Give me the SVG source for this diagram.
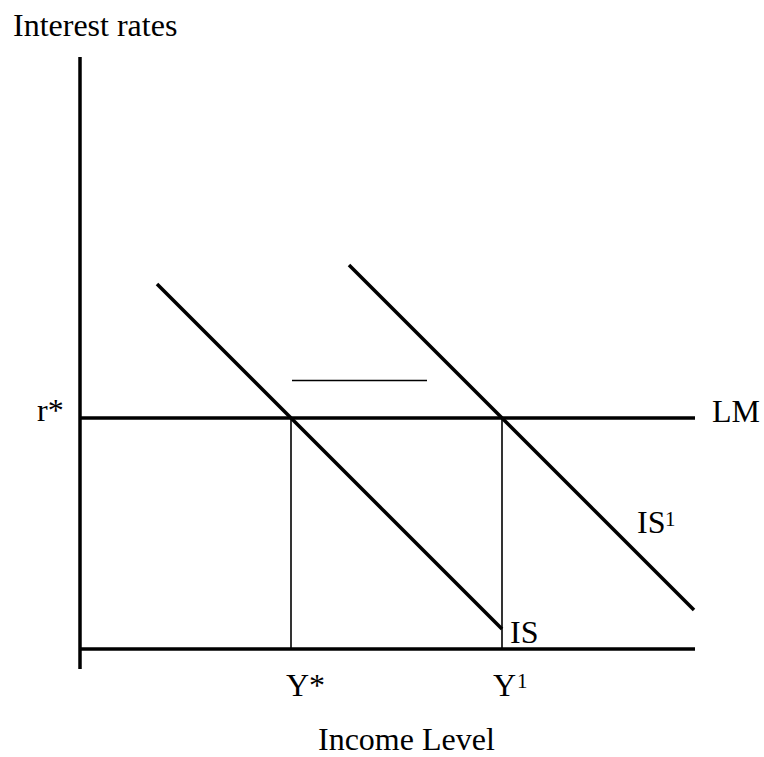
<svg xmlns="http://www.w3.org/2000/svg" width="764" height="757" viewBox="0 0 764 757">
<style>
text{font-family:"Liberation Serif","Times New Roman",serif;font-size:32px;fill:#000}
.sup{font-size:21px}
.thick{stroke:#000;stroke-width:3.5;fill:none}
.thin{stroke:#000;stroke-width:1.6;fill:none}
</style>
<rect width="764" height="757" fill="#fff"/>
<g id="axes">
<line class="thick" x1="80" y1="57" x2="80" y2="669"/>
<line class="thick" x1="80" y1="649" x2="695" y2="649"/>
<text x="13" y="36">Interest rates</text>
<text x="318" y="750">Income Level</text>
</g>
<g id="connectors">
<line class="thin" x1="291" y1="418" x2="291" y2="649"/>
<line class="thin" x1="502" y1="418" x2="502" y2="649"/>
<line class="thin" x1="292" y1="380.5" x2="427" y2="380.5"/>
</g>
<g id="LM">
<line class="thick" x1="80" y1="418" x2="695" y2="418"/>
<text x="712" y="422">LM</text>
</g>
<g id="IS">
<line class="thick" x1="157" y1="284" x2="502" y2="629"/>
<text x="510" y="643">IS</text>
</g>
<g id="IS1">
<line class="thick" x1="349" y1="265" x2="694" y2="610"/>
<text x="637" y="533">IS</text>
<text class="sup" x="665" y="526">1</text>
</g>
<g id="r-star">
<text x="37" y="421">r*</text>
</g>
<g id="Y-star">
<text x="286" y="696">Y*</text>
</g>
<g id="Y1">
<text x="493" y="696">Y</text>
<text class="sup" x="517" y="688">1</text>
</g>
</svg>
